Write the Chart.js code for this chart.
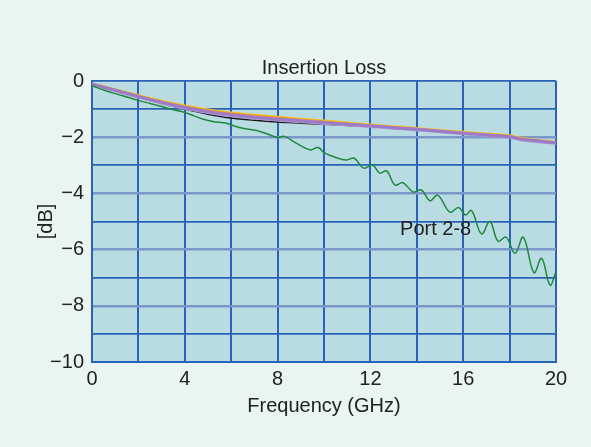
<!DOCTYPE html>
<html>
<head>
<meta charset="utf-8">
<title>Insertion Loss</title>
<script src="https://cdn.jsdelivr.net/npm/chart.js@4.4.1/dist/chart.umd.min.js"></script>
<style>
  html, body { margin: 0; padding: 0; background: #eaf4f0; }
  #chart { display: block; }
</style>
</head>
<body>
<canvas id="chart" width="591" height="447"></canvas>
<script>
// ------------------------------ Data ------------------------------
// frequency points (GHz) shared by the bundle of ports
const freqBundle = [0, 0.5, 1, 2, 3, 4, 5, 6, 7, 8, 9, 10, 11, 12, 13, 14, 15, 16, 17, 18, 18.5, 19, 19.5, 20];
const lossYellow   = [-0.09, -0.19, -0.29, -0.50, -0.70, -0.87, -1.01, -1.12, -1.20, -1.27, -1.34, -1.41, -1.48, -1.55, -1.61, -1.67, -1.74, -1.81, -1.87, -1.93, -2.02, -2.08, -2.12, -2.16];
const lossOrange   = [-0.10, -0.20, -0.30, -0.52, -0.72, -0.90, -1.04, -1.15, -1.23, -1.30, -1.37, -1.44, -1.50, -1.57, -1.63, -1.69, -1.76, -1.83, -1.89, -1.95, -2.04, -2.09, -2.13, -2.17];
const lossPink     = [-0.11, -0.21, -0.32, -0.54, -0.75, -0.93, -1.08, -1.19, -1.27, -1.34, -1.40, -1.47, -1.53, -1.59, -1.65, -1.71, -1.78, -1.85, -1.91, -1.97, -2.06, -2.11, -2.15, -2.19];
const lossPurple   = [-0.11, -0.22, -0.33, -0.55, -0.76, -0.94, -1.09, -1.20, -1.29, -1.36, -1.42, -1.48, -1.54, -1.60, -1.66, -1.72, -1.79, -1.86, -1.92, -1.98, -2.07, -2.12, -2.16, -2.20];
const lossLavender = [-0.12, -0.23, -0.35, -0.57, -0.78, -0.97, -1.12, -1.24, -1.32, -1.39, -1.45, -1.51, -1.56, -1.62, -1.68, -1.74, -1.81, -1.88, -1.94, -2.00, -2.09, -2.14, -2.18, -2.22];
const lossBlack    = [-0.11, -0.22, -0.35, -0.58, -0.80, -1.00, -1.18, -1.32, -1.40, -1.46, -1.50, -1.54, -1.58, -1.62, -1.67, -1.72, -1.79, -1.85, -1.91, -1.96, -2.06, -2.11, -2.15, -2.19];

// Port 2-8 (the one that falls away)
const freqPort28 = [0, 0.5, 1, 1.5, 2, 2.5, 3, 3.5, 4, 4.4, 4.8, 5.2, 5.8, 6.2, 6.6, 7.1, 7.7, 8.0, 8.3, 8.8, 9.4, 9.75, 10.0, 10.5, 10.97, 11.3, 11.7, 12.1, 12.4, 12.7, 13.06, 13.4, 13.85, 14.2, 14.57, 14.9, 15.43, 15.8, 16.1, 16.36, 16.79, 17.15, 17.5, 17.85, 18.23, 18.59, 19.05, 19.38, 19.74, 20.0];
const lossPort28 = [-0.17, -0.32, -0.45, -0.57, -0.69, -0.80, -0.91, -1.02, -1.12, -1.24, -1.36, -1.44, -1.50, -1.62, -1.70, -1.76, -1.93, -2.01, -1.97, -2.21, -2.45, -2.37, -2.55, -2.72, -2.81, -2.75, -3.10, -2.99, -3.28, -3.20, -3.70, -3.62, -3.95, -3.88, -4.26, -4.06, -4.67, -4.50, -4.77, -4.61, -5.44, -5.00, -5.70, -5.56, -6.13, -5.56, -6.82, -6.31, -7.26, -6.79];

// axis ticks
const xTickLabels = [0, 4, 8, 12, 16, 20];
const yTickLabels = [0, -2, -4, -6, -8, -10];

const FONT = '"Liberation Sans", Arial, Helvetica, sans-serif';
const TEXT = '#222222';
const GRID_BLUE = '#2a62b8';
const GRID_LIGHT = '#7b97cc';

function xy(xs, ys) {
  return xs.map((x, i) => ({ x: x, y: ys[i] }));
}

function bundleLine(values, color, width, order) {
  return {
    data: xy(freqBundle, values),
    borderColor: color,
    borderWidth: width,
    pointRadius: 0,
    tension: 0.3,
    order: order
  };
}

// plot background, title and the "Port 2-8" note
const decorations = {
  id: 'decorations',
  beforeDraw(chart) {
    const { ctx, chartArea: a } = chart;
    ctx.save();
    ctx.fillStyle = '#b9dbe2';
    ctx.fillRect(a.left, a.top, a.right - a.left, a.bottom - a.top);
    ctx.restore();
  },
  afterDraw(chart) {
    const { ctx, chartArea: a, scales } = chart;
    ctx.save();
    ctx.fillStyle = TEXT;
    ctx.font = '20px ' + FONT;
    ctx.textBaseline = 'middle';
    ctx.textAlign = 'center';
    ctx.fillText('Insertion Loss', (a.left + a.right) / 2, 68);
    ctx.textAlign = 'left';
    ctx.fillText('Port 2-8', scales.x.getPixelForValue(13.28), scales.y.getPixelForValue(-5.3));
    ctx.restore();
  }
};

new Chart(document.getElementById('chart'), {
  type: 'line',
  data: {
    datasets: [
      {
        data: xy(freqPort28, lossPort28),
        borderColor: '#1f8a3c',
        borderWidth: 1.5,
        pointRadius: 0,
        tension: 0.4,
        order: 0
      },
      bundleLine(lossPurple, '#9b7cc6', 3, 1),
      bundleLine(lossLavender, '#b49bd6', 3, 2),
      bundleLine(lossPink, '#d98bbf', 2, 3),
      bundleLine(lossOrange, '#ef8a2a', 1.5, 4),
      bundleLine(lossYellow, '#f4c21c', 2, 5),
      bundleLine(lossBlack, '#151515', 1.5, 6)
    ]
  },
  options: {
    responsive: false,
    animation: false,
    layout: { padding: { top: 81, left: 30, right: 35, bottom: 20 } },
    plugins: {
      legend: { display: false },
      tooltip: { enabled: false }
    },
    scales: {
      x: {
        type: 'linear',
        min: 0,
        max: 20,
        afterFit(scale) { scale.height = 65; },
        grid: {
          color: GRID_BLUE,
          lineWidth: 2,
          drawTicks: false
        },
        border: { color: GRID_BLUE, width: 2 },
        ticks: {
          stepSize: 2,
          padding: 5,
          color: TEXT,
          font: { family: FONT, size: 20 },
          callback: (v) => xTickLabels.includes(v) ? String(v) : ''
        },
        title: {
          display: true,
          text: 'Frequency (GHz)',
          color: TEXT,
          font: { family: FONT, size: 20 },
          padding: { top: 0, bottom: 9 }
        }
      },
      y: {
        min: -10,
        max: 0,
        afterFit(scale) { scale.width = 62; },
        grid: {
          color: (c) => (c.tick.value % 2 === 0 && c.tick.value !== 0 && c.tick.value !== -10) ? GRID_LIGHT : GRID_BLUE,
          lineWidth: (c) => (c.tick.value % 2 === 0 && c.tick.value !== 0 && c.tick.value !== -10) ? 2.5 : 1.8,
          drawTicks: false
        },
        border: { color: GRID_BLUE, width: 2 },
        ticks: {
          stepSize: 1,
          padding: 8,
          color: TEXT,
          font: { family: FONT, size: 20 },
          callback: (v) => yTickLabels.includes(v) ? (v < 0 ? '\u2212' + Math.abs(v) : String(v)) : ''
        },
        title: {
          display: true,
          text: '[dB]',
          color: TEXT,
          font: { family: FONT, size: 20 },
          padding: { top: 4, bottom: 0 }
        }
      }
    }
  },
  plugins: [decorations]
});
</script>
</body>
</html>
